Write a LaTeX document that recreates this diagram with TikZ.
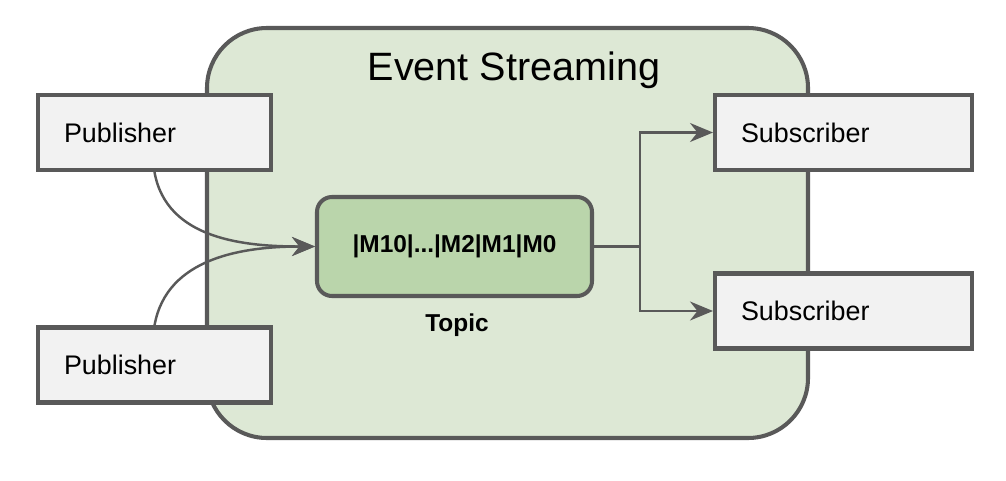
\documentclass[tikz,border=0pt]{standalone}
\usepackage{fontspec}
\setmainfont{Liberation Sans}
\usetikzlibrary{arrows.meta,positioning,calc}
\definecolor{linegray}{HTML}{595959}
\definecolor{streamgreen}{HTML}{DDE8D5}
\definecolor{topicgreen}{HTML}{BAD5AB}
\definecolor{boxgray}{HTML}{F2F2F2}
\tikzset{>={Stealth[length=4.6mm,width=3.8mm,inset=1.5mm]},
  client/.style={draw=linegray, line width=2.3pt, fill=boxgray, minimum height=1.5cm,
    inner xsep=0.52cm, align=left, font=\fontsize{15.3}{18}\selectfont},
  conn/.style={draw=linegray, line width=1.4pt}}

\begin{document}
\begin{tikzpicture}[x=1cm, y=1cm]
  \useasboundingbox (0,0) rectangle (20.12,9.6);
  \node[draw=linegray, line width=2.3pt, fill=streamgreen, rounded corners=1.2cm,
    minimum width=12.02cm, minimum height=8.2cm] (stream) at (10.15,4.94) {};
  \node[font=\fontsize{22.5}{27}\selectfont] (title) at (10.28,8.2) {Event Streaming};
  \node[draw=linegray, line width=2.3pt, fill=topicgreen, rounded corners=0.3cm,
    minimum width=5.5cm, minimum height=1.98cm, font=\fontsize{13.9}{16}\selectfont\bfseries]
    (topic) at (9.09,4.67) {|M10|...|M2|M1|M0\hspace{0.24cm}};
  \node[font=\fontsize{13.9}{16}\selectfont\bfseries] (topiclbl) at (9.14,3.1) {Topic};
  \node[client, text width=3.62cm] (pub1) at (3.09,6.95) {Publisher};
  \node[client, text width=3.62cm] (pub2) at (3.09,2.3) {Publisher};
  \node[client, text width=4.1cm] (sub1) at (16.87,6.95) {Subscriber};
  \node[client, text width=4.1cm] (sub2) at (16.87,3.38) {Subscriber};
  \coordinate (split) at (12.8,4.67);
  \draw[conn, ->] (pub1.south) to[out=-80, in=180] (topic.west);
  \draw[conn, ->] (pub2.north) to[out=80, in=180] (topic.west);
  \draw[conn] (topic.east) -- (split);
  \draw[conn, ->] (split) |- (sub1.west);
  \draw[conn, ->] (split) |- (sub2.west);
\end{tikzpicture}
\end{document}
